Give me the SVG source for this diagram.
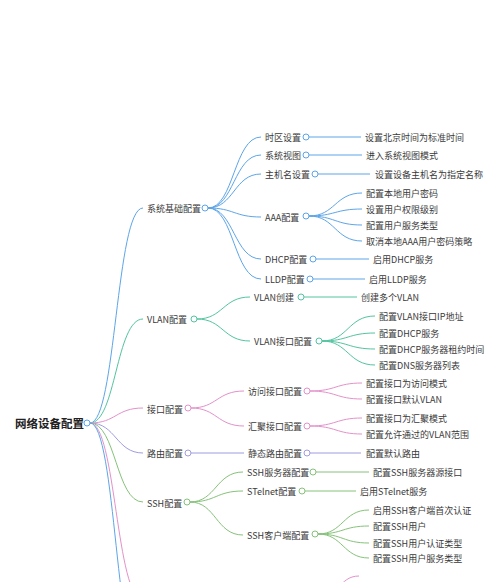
<svg xmlns="http://www.w3.org/2000/svg" width="500" height="582" viewBox="0 0 500 582">
<style>
text{font-family:"Noto Sans CJK SC","Noto Sans",sans-serif;font-size:9px;fill:#3a3a3a;dominant-baseline:central}
.root{font-size:11.5px;font-weight:bold;fill:#222}
path,line{fill:none;stroke-width:1}
circle{fill:#fff;stroke-width:1}
.b{stroke:#5DA5E8}.t{stroke:#52C4A0}.p{stroke:#E391C9}.l{stroke:#A09CE0}.g{stroke:#86C27A}
</style>
<rect width="500" height="582" fill="#fff"/>
<g id="connectors">
<!-- level 1 -->
<path class="b" d="M90,423 C116,423 116,208 143,208"/>
<path class="t" d="M90,423 C116,423 116,319 143,319"/>
<path class="p" d="M90,423 C116,423 116,408 143,408"/>
<path class="l" d="M90,423 C116,423 116,453 143,453"/>
<path class="g" d="M90,423 C116,423 116,502 143,502"/>
<path class="p" d="M90,423 C116,423 116,600 143,600"/>
<path class="b" d="M90,423 C116,423 116,668 143,668"/>
<!-- 系统基础配置 -->
<path class="b" d="M208,208 C234,208 234,137 261,137"/>
<path class="b" d="M208,208 C234,208 234,155 261,155"/>
<path class="b" d="M208,208 C234,208 234,174 261,174"/>
<path class="b" d="M208,208 C234,208 234,217 261,217"/>
<path class="b" d="M208,208 C234,208 234,259 261,259"/>
<path class="b" d="M208,208 C234,208 234,279 261,279"/>
<line class="b" x1="309" y1="137" x2="361" y2="137"/>
<line class="b" x1="309" y1="155" x2="362" y2="155"/>
<line class="b" x1="318" y1="174" x2="370" y2="174"/>
<path class="b" d="M309,216 C335,216 335,193 362,193"/>
<path class="b" d="M309,216 C335,216 335,209 362,209"/>
<path class="b" d="M309,216 C335,216 335,225 362,225"/>
<path class="b" d="M309,216 C335,216 335,241 362,241"/>
<line class="b" x1="316" y1="259" x2="369" y2="259"/>
<line class="b" x1="313" y1="279" x2="365" y2="279"/>
<!-- VLAN配置 -->
<path class="t" d="M197,319 C223,319 223,297 250,297"/>
<path class="t" d="M197,319 C223,319 223,341 250,341"/>
<line class="t" x1="304" y1="297" x2="357" y2="297"/>
<path class="t" d="M322,341 C348,341 348,316 375,316"/>
<path class="t" d="M322,341 C348,341 348,333 375,333"/>
<path class="t" d="M322,341 C348,341 348,349 375,349"/>
<path class="t" d="M322,341 C348,341 348,365 375,365"/>
<!-- 接口配置 -->
<path class="p" d="M191,408 C217,408 217,391 244,391"/>
<path class="p" d="M191,408 C217,408 217,426 244,426"/>
<path class="p" d="M310,391 C336,391 336,383 362,383"/>
<path class="p" d="M310,391 C336,391 336,399 362,399"/>
<path class="p" d="M310,426 C336,426 336,418 362,418"/>
<path class="p" d="M310,426 C336,426 336,434 362,434"/>
<!-- 路由配置 -->
<line class="l" x1="191" y1="453" x2="244" y2="453"/>
<line class="l" x1="310" y1="453" x2="361" y2="453"/>
<!-- SSH配置 -->
<path class="g" d="M190,502 C216,502 216,472 243,472"/>
<path class="g" d="M190,502 C216,502 216,491 243,491"/>
<path class="g" d="M190,502 C216,502 216,535 243,535"/>
<line class="g" x1="316" y1="472" x2="369" y2="472"/>
<line class="g" x1="305" y1="491" x2="356" y2="491"/>
<path class="g" d="M318,534 C343,534 343,510 369,510"/>
<path class="g" d="M318,534 C343,534 343,526 369,526"/>
<path class="g" d="M318,534 C343,534 343,543 369,543"/>
<path class="g" d="M318,534 C343,534 343,558 369,558"/>
<!-- partially visible branch at bottom -->
<path class="p" d="M318,600 C338,600 338,576 359,576"/>
</g>
<g id="root"><text class="root" x="15" y="423">网络设备配置</text><circle class="b" cx="87" cy="423" r="3"/></g>
<g id="n-sys"><text x="147" y="208">系统基础配置</text><circle class="b" cx="205" cy="208" r="3"/></g>
<g id="n-tz"><text x="265" y="137">时区设置</text><circle class="b" cx="306" cy="137" r="3"/></g>
<g id="n-tz-1"><text x="365" y="137">设置北京时间为标准时间</text></g>
<g id="n-sv"><text x="265" y="155">系统视图</text><circle class="b" cx="306" cy="155" r="3"/></g>
<g id="n-sv-1"><text x="366" y="155">进入系统视图模式</text></g>
<g id="n-hn"><text x="265" y="174">主机名设置</text><circle class="b" cx="315" cy="174" r="3"/></g>
<g id="n-hn-1"><text x="375" y="174">设置设备主机名为指定名称</text></g>
<g id="n-aaa"><text x="265" y="217">AAA配置</text><circle class="b" cx="306" cy="216" r="3"/></g>
<g id="n-aaa-1"><text x="366" y="193">配置本地用户密码</text></g>
<g id="n-aaa-2"><text x="366" y="209">设置用户权限级别</text></g>
<g id="n-aaa-3"><text x="366" y="225">配置用户服务类型</text></g>
<g id="n-aaa-4"><text x="366" y="241">取消本地AAA用户密码策略</text></g>
<g id="n-dhcp"><text x="265" y="259">DHCP配置</text><circle class="b" cx="313" cy="259" r="3"/></g>
<g id="n-dhcp-1"><text x="373" y="259">启用DHCP服务</text></g>
<g id="n-lldp"><text x="265" y="279">LLDP配置</text><circle class="b" cx="310" cy="279" r="3"/></g>
<g id="n-lldp-1"><text x="369" y="279">启用LLDP服务</text></g>
<g id="n-vlan"><text x="147" y="319">VLAN配置</text><circle class="t" cx="194" cy="319" r="3"/></g>
<g id="n-vc"><text x="254" y="297">VLAN创建</text><circle class="t" cx="301" cy="297" r="3"/></g>
<g id="n-vc-1"><text x="361" y="297">创建多个VLAN</text></g>
<g id="n-vi"><text x="254" y="341">VLAN接口配置</text><circle class="t" cx="319" cy="341" r="3"/></g>
<g id="n-vi-1"><text x="379" y="316">配置VLAN接口IP地址</text></g>
<g id="n-vi-2"><text x="379" y="333">配置DHCP服务</text></g>
<g id="n-vi-3"><text x="379" y="349">配置DHCP服务器租约时间</text></g>
<g id="n-vi-4"><text x="379" y="365">配置DNS服务器列表</text></g>
<g id="n-if"><text x="147" y="409">接口配置</text><circle class="p" cx="188" cy="408" r="3"/></g>
<g id="n-acc"><text x="248" y="391">访问接口配置</text><circle class="p" cx="307" cy="391" r="3"/></g>
<g id="n-acc-1"><text x="366" y="383">配置接口为访问模式</text></g>
<g id="n-acc-2"><text x="366" y="399">配置接口默认VLAN</text></g>
<g id="n-trk"><text x="248" y="426">汇聚接口配置</text><circle class="p" cx="307" cy="426" r="3"/></g>
<g id="n-trk-1"><text x="366" y="418">配置接口为汇聚模式</text></g>
<g id="n-trk-2"><text x="366" y="434">配置允许通过的VLAN范围</text></g>
<g id="n-rt"><text x="147" y="453">路由配置</text><circle class="l" cx="188" cy="453" r="3"/></g>
<g id="n-srt"><text x="248" y="453">静态路由配置</text><circle class="l" cx="307" cy="453" r="3"/></g>
<g id="n-srt-1"><text x="366" y="453">配置默认路由</text></g>
<g id="n-ssh"><text x="147" y="503">SSH配置</text><circle class="g" cx="187" cy="502" r="3"/></g>
<g id="n-sshs"><text x="247" y="472">SSH服务器配置</text><circle class="g" cx="313" cy="472" r="3"/></g>
<g id="n-sshs-1"><text x="373" y="472">配置SSH服务器源接口</text></g>
<g id="n-stel"><text x="247" y="491">STelnet配置</text><circle class="g" cx="302" cy="491" r="3"/></g>
<g id="n-stel-1"><text x="360" y="491">启用STelnet服务</text></g>
<g id="n-sshc"><text x="247" y="535">SSH客户端配置</text><circle class="g" cx="315" cy="534" r="3"/></g>
<g id="n-sshc-1"><text x="373" y="510">启用SSH客户端首次认证</text></g>
<g id="n-sshc-2"><text x="373" y="526">配置SSH用户</text></g>
<g id="n-sshc-3"><text x="373" y="543">配置SSH用户认证类型</text></g>
<g id="n-sshc-4"><text x="373" y="558">配置SSH用户服务类型</text></g>
</svg>
